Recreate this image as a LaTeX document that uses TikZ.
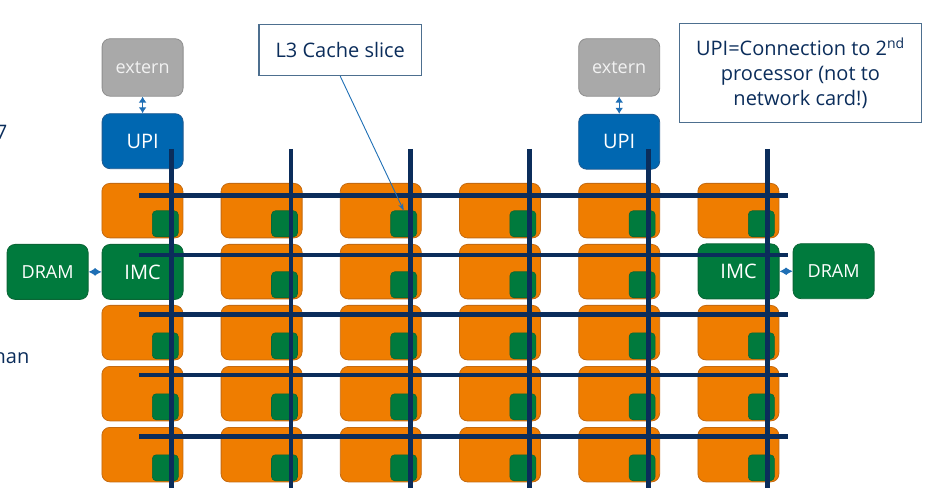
\documentclass[tikz,border=0pt]{standalone}
\usepackage{fontspec}
\setmainfont{Open Sans}
\usetikzlibrary{arrows.meta}
\definecolor{tileor}{HTML}{EF7D00}
\definecolor{tileorb}{HTML}{C46A10}
\definecolor{slgreen}{HTML}{007A3D}
\definecolor{slgreenb}{HTML}{0A6535}
\definecolor{busblue}{HTML}{0B2D5B}
\definecolor{upiblue}{HTML}{0067B1}
\definecolor{upiblueb}{HTML}{1F5A90}
\definecolor{extgray}{HTML}{A9A9A9}
\definecolor{extgrayb}{HTML}{8E8E8E}
\definecolor{txtblue}{HTML}{0B2D5B}
\definecolor{linkblue}{HTML}{1F6FB5}
\definecolor{boxline}{HTML}{4D6F8F}
\begin{document}
\begin{tikzpicture}[x=1pt,y=-1pt,
  bigbox/.style={anchor=north west,inner sep=0pt,line width=0.8pt,rounded corners=8pt,
    minimum width=81pt,minimum height=55pt,font=\fontsize{20}{24}\selectfont},
  tilebox/.style={bigbox,draw=tileorb,fill=tileor,minimum height=54.5pt},
  slicebox/.style={anchor=north west,inner sep=0pt,draw=slgreenb,fill=slgreen,line width=0.6pt,
    rounded corners=4pt,minimum width=26pt,minimum height=26pt},
  greenbox/.style={bigbox,draw=slgreenb,fill=slgreen,text=white},
  dramtxt/.style={font=\fontsize{18}{22}\selectfont},
  upibox/.style={bigbox,draw=upiblueb,fill=upiblue,text=white},
  extbox/.style={bigbox,draw=extgrayb,fill=extgray,text=white!95!black,minimum height=57.5pt,
    font=\fontsize{18}{22}\selectfont},
  bus/.style={draw=busblue,line width=4.8pt},
  link/.style={draw=linkblue,fill=linkblue,line width=1.3pt},
  dblhead/.style={{Latex[length=6pt,width=8pt]}-{Latex[length=6pt,width=8pt]}},
  diamondhead/.style={{Latex[length=7pt,width=8pt]}-{Latex[length=7pt,width=8pt]}},
  callout/.style={draw=boxline,line width=1.2pt,fill=white,text=txtblue,inner sep=0pt,
    font=\fontsize{20}{25}\selectfont,align=center},
  slidetxt/.style={text=txtblue,font=\fontsize{20}{25}\selectfont,inner sep=0pt}
]
\useasboundingbox (0,0) rectangle (929,494);
\clip (0,0) rectangle (929,494);

% cut-off slide text on the left
\node[slidetxt,anchor=base east] (lt7) at (7.5,140) {7};
\node[slidetxt,anchor=base east] (lthan) at (29.5,363) {han};

% extern and UPI
\node[extbox] (ext1) at (101.7,38.3) {extern};
\node[upibox] (upi1) at (101.7,113.3) {UPI};
\node[extbox] (ext2) at (578.3,38.3) {extern};
\node[upibox] (upi2) at (578.3,113.8) {UPI};

% tiles
\foreach \i in {0,...,5}{
  \foreach \j in {0,2,3,4}{
    \node[tilebox] (t\i\j) at ({101.5+119.2*\i},{183+61*\j}) {};
    \node[slicebox] (g\i\j) at ({152+119.2*\i},{210.5+61*\j}) {};
  }
}
\foreach \i in {1,...,4}{
  \node[tilebox] (t\i1) at ({101.5+119.2*\i},244) {};
  \node[slicebox] (g\i1) at ({152+119.2*\i},271.5) {};
}

% memory controllers and DRAM
\node[greenbox] (imc1) at (101.7,244) {IMC};
\node[greenbox] (imc2) at (697.7,243.5) {IMC};
\node[greenbox,dramtxt] (dram1) at (6.7,244) {DRAM};
\node[greenbox,dramtxt] (dram2) at (792.7,243.3) {DRAM};

% mesh interconnect
\foreach \i in {0,...,5}{
  \draw[bus] ({171.8+119.2*\i},149) -- ({171.8+119.2*\i},488);
}
\foreach \y in {195.5,255,314.5,375,436.5}{
  \draw[bus] (139.3,\y) -- (788.3,\y);
}

% connectors
\draw[link,dblhead] (ext1.south) -- (upi1.north);
\draw[link,dblhead] (ext2.south) -- (upi2.north);
\draw[link,diamondhead] (dram1.east) -- (imc1.west);
\draw[link,diamondhead] (imc2.east) -- (dram2.west);

% callouts
\node[callout,minimum width=162.7pt,minimum height=51pt,anchor=north west] (l3) at (258.3,24) {L3 Cache slice};
\draw[draw=linkblue,line width=0.9pt,-{Stealth[length=7pt,width=5pt]}] (l3.south) -- (g20.north);
\node[callout,minimum width=241.7pt,minimum height=98.4pt,anchor=north west] (note) at (679,23.3)
  {UPI=Connection to 2\textsuperscript{nd}\\processor (not to\\network card!)};
\end{tikzpicture}
\end{document}
